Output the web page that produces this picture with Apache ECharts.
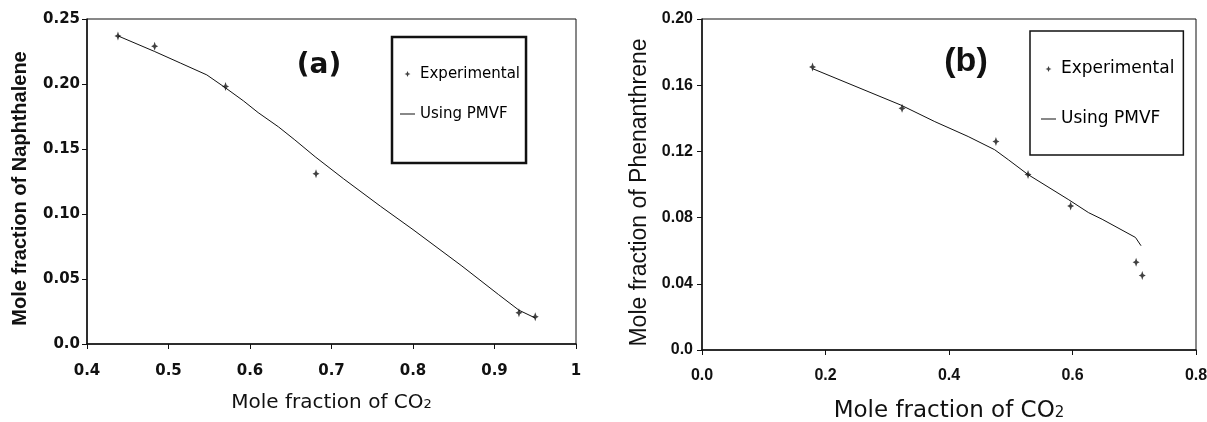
<!DOCTYPE html>
<html>
<head>
<meta charset="utf-8">
<script src="https://cdn.jsdelivr.net/npm/echarts@6/dist/echarts.min.js"></script>
<style>
    html, body { margin: 0; padding: 0; background: #fff; overflow: hidden; width: 1207px; height: 422px; }
    .chart { position: absolute; top: 0; height: 422px; }
    #chartA { left: 0; width: 603px; }
    #chartB { left: 603px; width: 620px; }
</style>
</head>
<body>
<div id="chartA" class="chart"></div>
<div id="chartB" class="chart"></div>
<script>
// (a) naphthalene
const naphCO2 = [0.438, 0.483, 0.570, 0.681, 0.930, 0.950]
const naphExp = [0.237, 0.229, 0.198, 0.131, 0.024, 0.021]
const naphFitCO2 = [0.438, 0.483, 0.515, 0.547, 0.570, 0.592, 0.610, 0.635, 0.655, 0.680, 0.715, 0.760, 0.800, 0.860, 0.905, 0.930, 0.950]
const naphFit = [0.237, 0.225, 0.216, 0.207, 0.197, 0.187, 0.178, 0.167, 0.157, 0.144, 0.127, 0.106, 0.088, 0.060, 0.038, 0.026, 0.020]
const naphXTicks = ['0.4', '0.5', '0.6', '0.7', '0.8', '0.9', '1']
const naphYTicks = ['0.0', '0.05', '0.10', '0.15', '0.20', '0.25']

// (b) phenanthrene
const phenCO2 = [0.179, 0.324, 0.476, 0.528, 0.597, 0.703, 0.713]
const phenExp = [0.171, 0.146, 0.126, 0.106, 0.087, 0.053, 0.045]
const phenFitCO2 = [0.179, 0.322, 0.377, 0.431, 0.474, 0.496, 0.528, 0.593, 0.626, 0.648, 0.702, 0.711]
const phenFit = [0.170, 0.148, 0.138, 0.129, 0.121, 0.115, 0.106, 0.091, 0.083, 0.079, 0.068, 0.063]
const phenXTicks = ['0.0', '0.2', '0.4', '0.6', '0.8']
const phenYTicks = ['0.0', '0.04', '0.08', '0.12', '0.16', '0.20']

const ARIAL = '"Liberation Sans", Arial, sans-serif'
const WIDE = '"DejaVu Sans", sans-serif'
const INK = '#111'
const STAR = 'path://M5,0L6.6,3.6L10,5L6.6,6.4L5,10L3.4,6.4L0,5L3.4,3.6Z'
const DASH = 'path://M0,0H15V1H0Z'

const pairs = (xs, ys) => xs.map((x, i) => [x, ys[i]])
const tickFmt = (ticks, min, step) => v => ticks[Math.round((v - min) / step)] ?? ''

const valueAxis = (o, labelFont) => ({
    type: 'value',
    min: o.min,
    max: o.max,
    interval: o.step,
    name: o.name,
    nameLocation: 'middle',
    nameGap: o.nameGap,
    nameTextStyle: o.nameStyle,
    axisLine: { show: true, lineStyle: { color: INK, width: 1.5 } },
    axisTick: { show: true, inside: false, length: 5, lineStyle: { color: INK, width: 1 } },
    splitLine: { show: false },
    axisLabel: {
        margin: o.margin,
        color: INK,
        fontFamily: labelFont.family,
        fontWeight: 'bold',
        fontSize: labelFont.size,
        formatter: tickFmt(o.ticks, o.min, o.step)
    }
})

const makeOption = (p) => ({
    animation: false,
    backgroundColor: '#fff',
    textStyle: { fontFamily: ARIAL, color: INK },
    title: {
        text: p.tag.text,
        left: p.tag.x,
        top: p.tag.y,
        padding: 0,
        textAlign: 'center',
        textStyle: { fontFamily: p.tag.family, fontWeight: 'bold', fontSize: p.tag.size, color: INK }
    },
    grid: {
        left: p.grid[0], top: p.grid[1], width: p.grid[2], height: p.grid[3],
        outerBoundsMode: 'none',
        containLabel: false,
        show: true, borderColor: INK, borderWidth: 1, backgroundColor: 'transparent'
    },
    legend: {
        orient: 'vertical',
        left: p.legend.left,
        top: p.legend.top,
        padding: p.legend.padding,
        itemGap: p.legend.gap,
        itemWidth: 15,
        itemHeight: 6,
        borderColor: INK,
        borderWidth: p.legend.border,
        textStyle: { fontFamily: WIDE, fontSize: p.legend.fontSize, lineHeight: p.legend.fontSize + 1, color: '#000' },
        data: [
            { name: 'Experimental', icon: STAR },
            { name: 'Using PMVF', icon: DASH }
        ]
    },
    xAxis: valueAxis(p.x, p.labelFont),
    yAxis: valueAxis(p.y, p.labelFont),
    series: [
        {
            name: 'Using PMVF',
            type: 'line',
            data: p.fit,
            showSymbol: false,
            symbol: 'none',
            smooth: false,
            itemStyle: { color: INK },
            lineStyle: { color: INK, width: 1 }
        },
        {
            name: 'Experimental',
            type: 'scatter',
            data: p.exp,
            symbol: STAR,
            symbolSize: [7, 9],
            itemStyle: { color: INK }
        }
    ]
})

const co2Name = size => ({
    fontFamily: WIDE,
    fontSize: size,
    color: INK,
    rich: { sub: { fontFamily: WIDE, fontSize: Math.round(size * 0.65), color: INK, padding: [4, 0, 0, 0] } }
})

const chartA = echarts.init(document.getElementById('chartA'))
chartA.setOption(makeOption({
    tag: { text: '(a)', x: 319, y: 52, size: 28, family: WIDE },
    grid: [87, 19, 489, 325],
    labelFont: { family: WIDE, size: 15 },
    legend: { left: 392, top: 37, padding: [29, 6, 41, 8], gap: 24, border: 2.5, fontSize: 15 },
    x: {
        min: 0.4, max: 1, step: 0.1, ticks: naphXTicks, margin: 20,
        name: 'Mole fraction of CO{sub|2}', nameGap: 49, nameStyle: co2Name(20)
    },
    y: {
        min: 0, max: 0.25, step: 0.05, ticks: naphYTicks, margin: 7,
        name: 'Mole fraction of Naphthalene', nameGap: 57,
        nameStyle: { fontFamily: ARIAL, fontSize: 20, fontWeight: 'bold', color: INK, padding: [0, 14, 0, 0] }
    },
    fit: pairs(naphFitCO2, naphFit),
    exp: pairs(naphCO2, naphExp)
}))

const chartB = echarts.init(document.getElementById('chartB'))
chartB.setOption(makeOption({
    tag: { text: '(b)', x: 363, y: 45, size: 34, family: ARIAL },
    grid: [99, 19, 494, 331],
    labelFont: { family: ARIAL, size: 16 },
    legend: { left: 427, top: 31, padding: [29, 9, 27, 11], gap: 32, border: 1.5, fontSize: 17 },
    x: {
        min: 0, max: 0.8, step: 0.2, ticks: phenXTicks, margin: 18,
        name: 'Mole fraction of CO{sub|2}', nameGap: 50, nameStyle: co2Name(23)
    },
    y: {
        min: 0, max: 0.2, step: 0.04, ticks: phenYTicks, margin: 9,
        name: 'Mole fraction of Phenanthrene', nameGap: 51,
        nameStyle: { fontFamily: ARIAL, fontSize: 23, color: INK, padding: [0, 16, 0, 0] }
    },
    fit: pairs(phenFitCO2, phenFit),
    exp: pairs(phenCO2, phenExp)
}))

window.addEventListener('resize', () => {
    chartA.resize()
    chartB.resize()
})
</script>
</body>
</html>
